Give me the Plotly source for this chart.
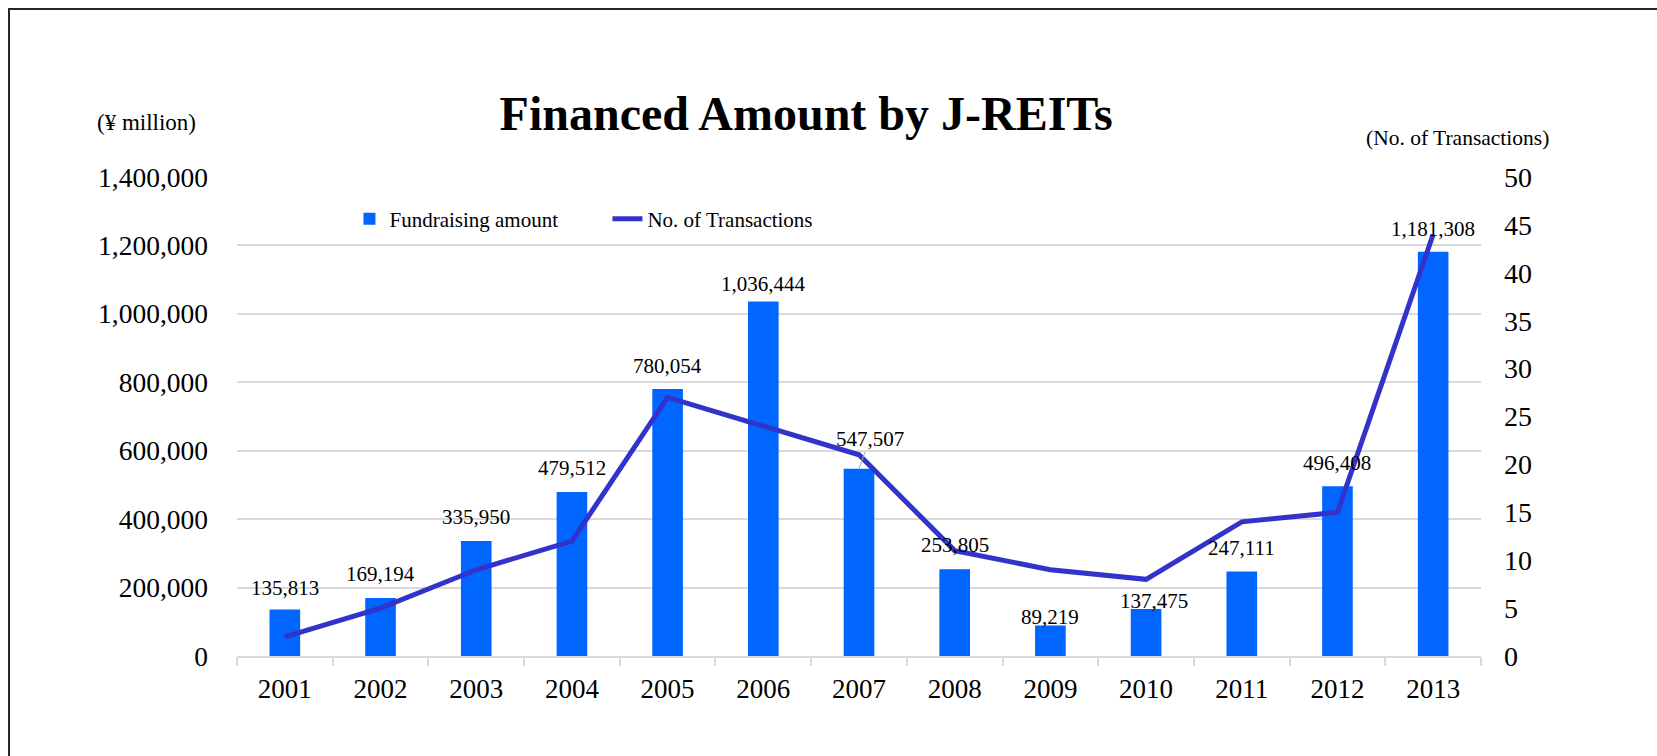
import plotly.graph_objects as go

years = ["2001", "2002", "2003", "2004", "2005", "2006", "2007",
         "2008", "2009", "2010", "2011", "2012", "2013"]
fundraising = [135813, 169194, 335950, 479512, 780054, 1036444, 547507,
               253805, 89219, 137475, 247111, 496408, 1181308]
transactions = [2, 5, 9, 12, 27, 24, 21, 11, 9, 8, 14, 15, 44]

y_ticks = [0, 200000, 400000, 600000, 800000, 1000000, 1200000, 1400000]
y2_ticks = [0, 5, 10, 15, 20, 25, 30, 35, 40, 45, 50]

# label placement styling (pixel offsets of the value labels)
label_yshift = [22, 24, 24, 24, 23, 17, 30, 24, 8, 8, 23, 23, 23]
label_xshift = [0, 0, 0, 0, 0, 0, 11, 0, 0, 8, 0, 0, 0]

FONT = "Liberation Serif"
BAR_COLOR = "#0066FF"
LINE_COLOR = "#3333CC"
GRID = "#D9D9D9"

fig = go.Figure()
fig.add_trace(go.Bar(
    x=years, y=fundraising, name="Fundraising amount",
    marker=dict(color=BAR_COLOR, line=dict(width=0)),
    yaxis="y",
))
fig.add_trace(go.Scatter(
    x=years, y=transactions, name="No. of Transactions",
    mode="lines", line=dict(color=LINE_COLOR, width=5),
    yaxis="y2",
))

annotations = []
for i, (yr, v) in enumerate(zip(years, fundraising)):
    txt = f"{v:,}"
    if yr == "2007":
        annotations.append(dict(
            x=i, y=v, xref="x", yref="y", text=txt, showarrow=True,
            arrowhead=0, arrowwidth=1, arrowcolor="#A6A6A6",
            ax=label_xshift[i], ay=-label_yshift[i], standoff=0,
            font=dict(family=FONT, size=21, color="#000000"),
        ))
    else:
        annotations.append(dict(
            x=i, y=v, xref="x", yref="y", text=txt, showarrow=False,
            yanchor="middle", xanchor="center",
            yshift=label_yshift[i], xshift=label_xshift[i],
            font=dict(family=FONT, size=21, color="#000000"),
        ))

annotations.append(dict(
    x=-0.0725, y=1.113, xref="paper", yref="paper", text="(¥ million)",
    showarrow=False, xanchor="center", yanchor="middle",
    font=dict(family=FONT, size=23, color="#000000"),
))
annotations.append(dict(
    x=0.981, y=1.081, xref="paper", yref="paper", text="(No. of Transactions)",
    showarrow=False, xanchor="center", yanchor="middle",
    font=dict(family=FONT, size=21.5, color="#000000"),
))

fig.update_layout(
    width=1657, height=756,
    margin=dict(l=237, r=176, t=177, b=100),
    paper_bgcolor="white", plot_bgcolor="white",
    font=dict(family=FONT, color="#000000"),
    title=dict(
        text="<b>Financed Amount by J-REITs</b>",
        x=0.4575, xref="paper", xanchor="center",
        y=1 - 113 / 756, yref="container", yanchor="middle",
        font=dict(family=FONT, size=48, color="#000000"),
    ),
    bargap=0.68,
    showlegend=True,
    legend=dict(
        orientation="h", x=0.0904, xanchor="left",
        y=0.912, yanchor="middle",
        font=dict(family=FONT, size=21, color="#000000"),
        bgcolor="white", entrywidth=213, entrywidthmode="pixels",
        traceorder="normal",
    ),
    xaxis=dict(
        type="category", categoryorder="array", categoryarray=years,
        range=[-0.5, len(years) - 0.5],
        showgrid=False, showline=True,
        linecolor=GRID, linewidth=2,
        ticks="outside", tickson="boundaries", ticklen=8,
        tickcolor=GRID, tickwidth=2, tickangle=0,
        tickfont=dict(family=FONT, size=27, color="#000000"),
        ticklabelstandoff=8,
    ),
    yaxis=dict(
        range=[0, 1400000], tickvals=y_ticks, tickformat=",d",
        showgrid=True, gridcolor=GRID, gridwidth=2,
        zeroline=False, showline=False, ticks="",
        tickfont=dict(family=FONT, size=27.5, color="#000000"),
        ticklabelstandoff=28,
    ),
    yaxis2=dict(
        range=[0, 50], tickvals=y2_ticks, overlaying="y", side="right",
        showgrid=False, zeroline=False, showline=False, ticks="",
        tickfont=dict(family=FONT, size=28, color="#000000"),
        ticklabelstandoff=22,
    ),
    annotations=annotations,
    shapes=[dict(
        type="rect", xref="paper", yref="paper",
        x0=(9 - 237) / 1244, x1=1.3, y0=-0.4, y1=(656 - 9) / 479,
        line=dict(color="#262626", width=2), fillcolor="rgba(0,0,0,0)",
        layer="above",
    )],
)

fig.write_html("out.html")
